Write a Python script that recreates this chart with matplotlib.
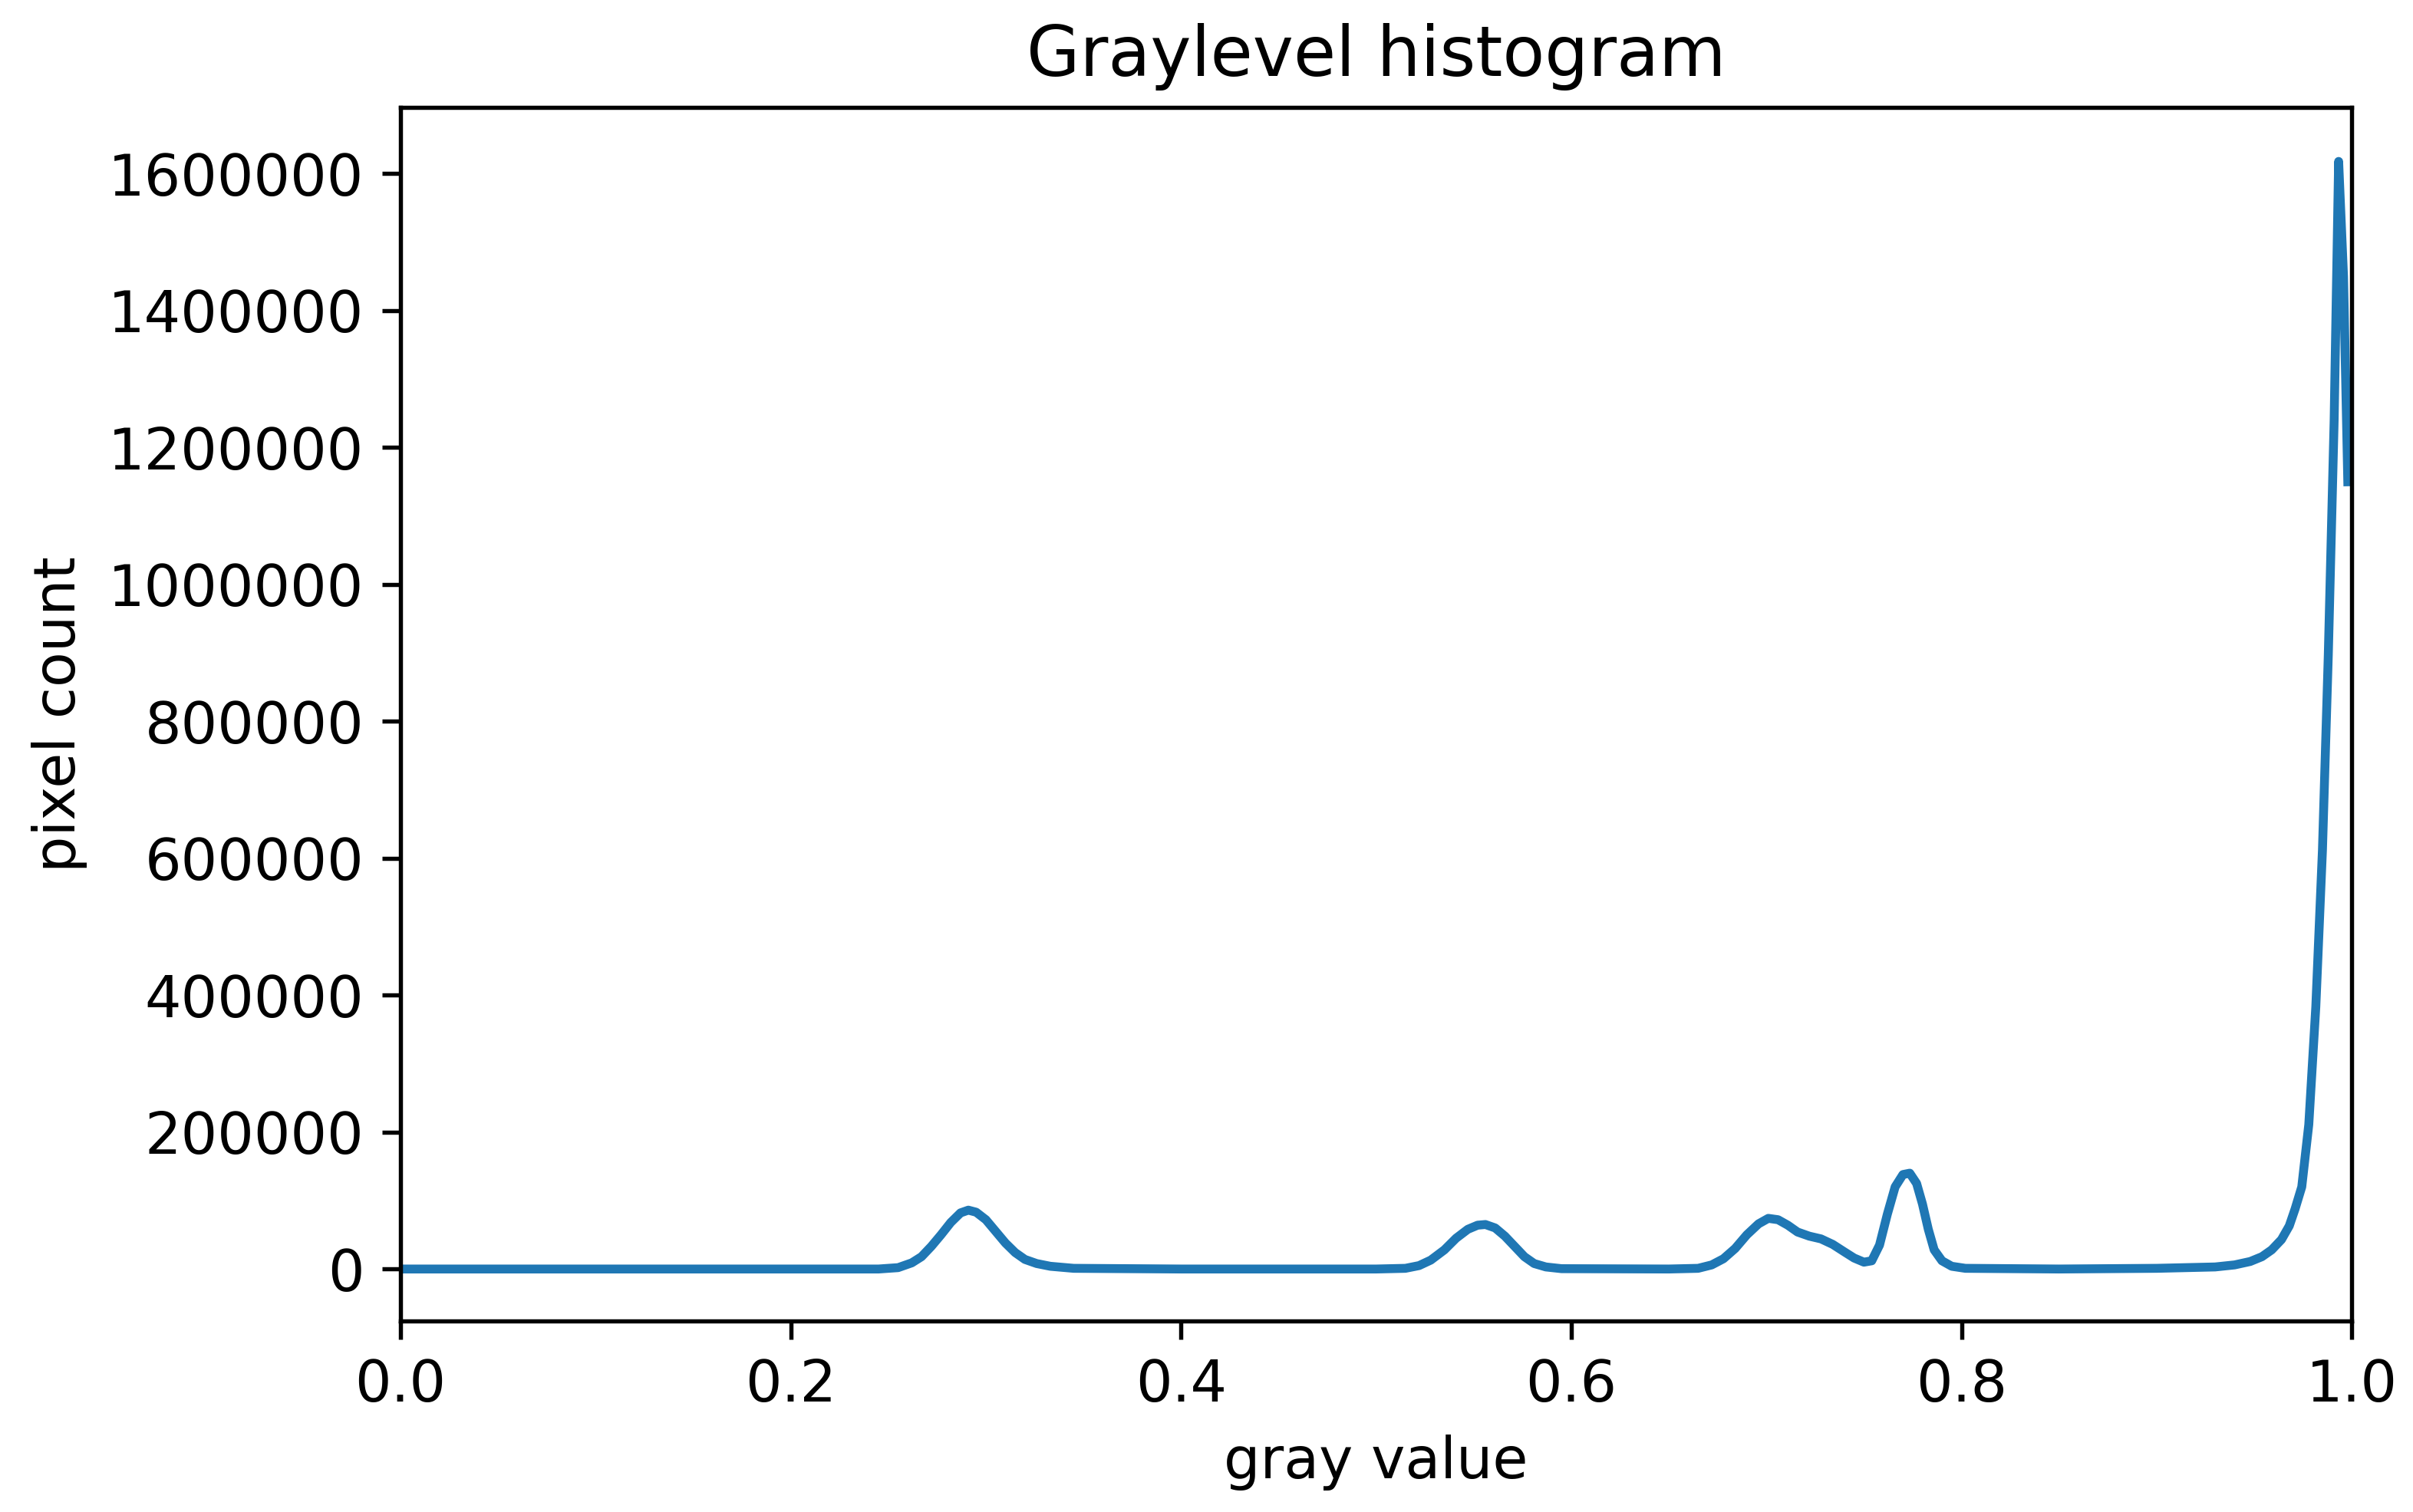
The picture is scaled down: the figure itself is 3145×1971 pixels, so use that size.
import matplotlib
matplotlib.use("Agg")
import matplotlib.pyplot as plt

# gray value (0..1) and pixel count
gray = [0.0, 0.10, 0.20, 0.245, 0.255, 0.262, 0.267, 0.272, 0.277, 0.282,
        0.287, 0.291, 0.295, 0.300, 0.305, 0.310, 0.315, 0.320, 0.326, 0.333,
        0.345, 0.40, 0.50, 0.515, 0.522, 0.528, 0.535, 0.541, 0.547, 0.552,
        0.556, 0.561, 0.566, 0.571, 0.576, 0.581, 0.587, 0.595, 0.65, 0.665,
        0.672, 0.678, 0.684, 0.690, 0.696, 0.701, 0.706, 0.711, 0.716, 0.722,
        0.728, 0.734, 0.740, 0.745, 0.750, 0.754, 0.758, 0.762, 0.766, 0.770,
        0.7735, 0.777, 0.780, 0.783, 0.786, 0.790, 0.795, 0.802, 0.85, 0.90,
        0.93, 0.94, 0.948, 0.954, 0.959, 0.964, 0.968, 0.971, 0.9744, 0.978,
        0.9816, 0.985, 0.988, 0.991, 0.9933, 0.9958, 0.998]
count = [0, 0, 0, 0, 2000, 9000, 18000, 33000, 50000, 68000,
         82000, 86000, 83000, 72000, 55000, 38000, 24000, 14000, 8000, 4000,
         1000, 0, 0, 1000, 5000, 13000, 28000, 45000, 58000, 64000,
         65000, 60000, 48000, 33000, 18000, 8000, 3000, 500, 0, 1000,
         6000, 15000, 30000, 50000, 66000, 74000, 72000, 64000, 54000, 48000,
         44000, 36000, 25000, 16000, 10000, 12000, 35000, 80000, 120000, 138000,
         140000, 125000, 95000, 58000, 28000, 12000, 4000, 1000, 0, 1000,
         3000, 6000, 11000, 18000, 28000, 43000, 63000, 88000, 120000, 211000,
         383000, 612000, 897000, 1240000, 1618000, 1450000, 1150000]

yticks = [0, 200000, 400000, 600000, 800000, 1000000, 1200000, 1400000, 1600000]
xticks = [0.0, 0.2, 0.4, 0.6, 0.8, 1.0]

plt.rcParams["font.size"] = 11

fig = plt.figure(figsize=(3145 / 490, 1971 / 490), dpi=490)
ax = fig.add_axes([0.166, 0.1263, 0.8086, 0.8027])

ax.plot(gray, count, color="#1f77b4", linewidth=1.7, solid_joinstyle="round")

ax.set_xlim(0, 1)
ax.set_ylim(-76000, 1697000)
ax.set_xticks(xticks)
ax.set_yticks(yticks)
ax.ticklabel_format(axis="y", style="plain")

ax.set_title("Graylevel histogram")
ax.set_xlabel("gray value")
ax.set_ylabel("pixel count")

fig.savefig("out.png", dpi=490)
